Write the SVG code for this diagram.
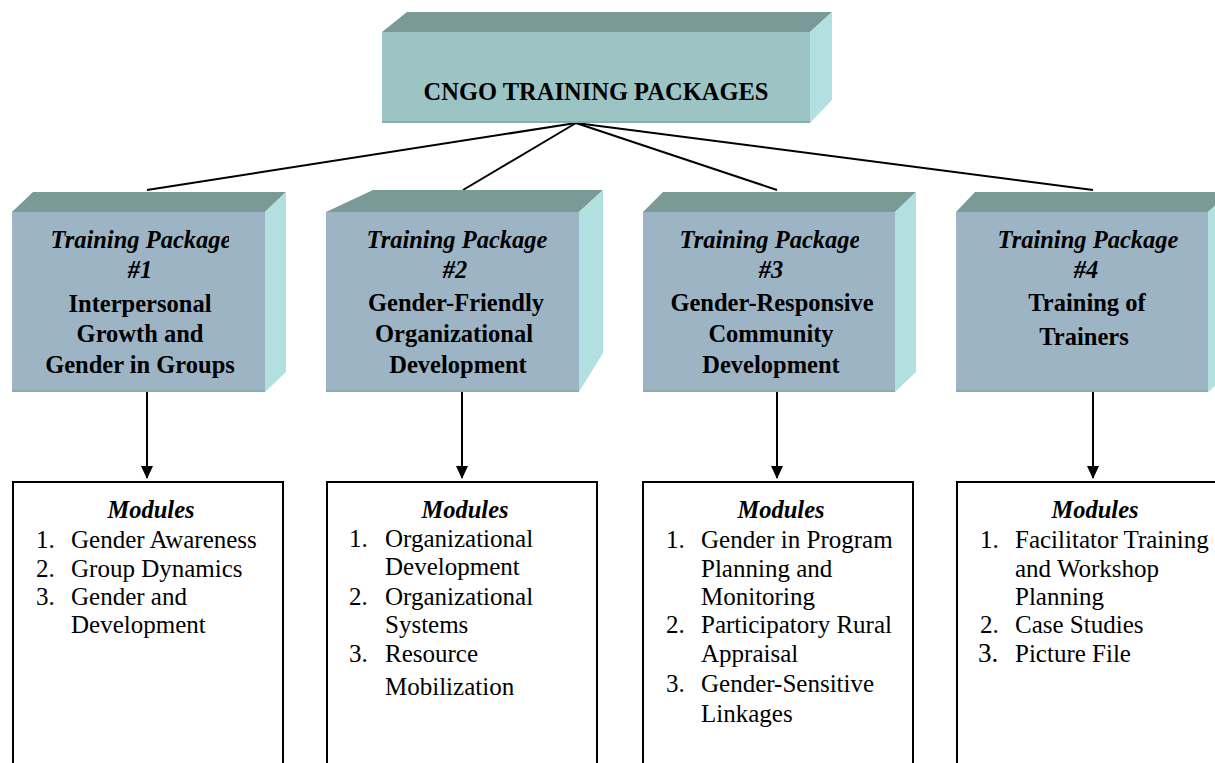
<svg xmlns="http://www.w3.org/2000/svg" width="1215" height="763" viewBox="0 0 1215 763">
  <style>
    text { font-family: "Liberation Serif", "Times New Roman", serif; fill: #000; }
    .title { font-size: 24.5px; font-weight: bold; text-anchor: middle; }
    .pkg { font-size: 24.5px; font-weight: bold; font-style: italic; text-anchor: middle; }
    .pkgname { font-size: 24.5px; font-weight: bold; text-anchor: middle; }
    .head { font-size: 24.5px; font-weight: bold; font-style: italic; text-anchor: middle; }
    .item { font-size: 25px; }
    .topface { fill: #7a9a97; }
    .sideface { fill: #b2e0e0; }
    .frontMain { fill: #9dc4c4; }
    .frontPkg { fill: #9cb4c3; }
    .edge { fill: none; stroke: #8aaeae; stroke-width: 2; }
    .link { stroke: #000; stroke-width: 2; fill: none; }
    .module { fill: #fff; stroke: #000; stroke-width: 2; }
  </style>
  <defs>
    <marker id="arrow" markerWidth="13" markerHeight="12" refX="12" refY="6" orient="auto" markerUnits="userSpaceOnUse" viewBox="0 0 13 12">
      <path d="M0,0 L13,6 L0,12 Z" fill="#000"/>
    </marker>
    <!-- text frames narrower than the caption line -->
    <clipPath id="clip1"><rect x="12" y="220" width="217" height="40"/></clipPath>
    <clipPath id="clip3"><rect x="643" y="220" width="216" height="40"/></clipPath>
  </defs>

  <rect width="1215" height="763" fill="#fff"/>

  <!-- connectors -->
  <g id="connectors">
    <line class="link" x1="576" y1="123" x2="147" y2="190"/>
    <line class="link" x1="576" y1="123" x2="463" y2="190"/>
    <line class="link" x1="576" y1="123" x2="777" y2="190"/>
    <line class="link" x1="576" y1="123" x2="1093" y2="190"/>
    <line class="link" x1="147" y1="392" x2="147" y2="478" marker-end="url(#arrow)"/>
    <line class="link" x1="462" y1="392" x2="462" y2="478" marker-end="url(#arrow)"/>
    <line class="link" x1="777" y1="392" x2="777" y2="478" marker-end="url(#arrow)"/>
    <line class="link" x1="1093" y1="392" x2="1093" y2="478" marker-end="url(#arrow)"/>
  </g>

  <!-- root block -->
  <g id="root">
    <polygon class="topface" points="382,32 407,12 832,12 810,32"/>
    <polygon class="sideface" points="810,32 832,12 832,100 810,123"/>
    <rect class="frontMain" x="382" y="32" width="428" height="91"/>
    <line class="edge" x1="382" y1="122" x2="810" y2="122"/>
    <text class="title" x="596" y="100">CNGO TRAINING PACKAGES</text>
  </g>

  <!-- package 1 -->
  <g id="package1">
    <polygon class="topface" points="12,212 33,192 286,192 265,212"/>
    <polygon class="sideface" points="265,212 286,192 286,372 265,392"/>
    <rect class="frontPkg" x="12" y="212" width="253" height="180"/>
    <line class="edge" x1="12" y1="391" x2="265" y2="391"/>
    <text class="pkg" x="141" y="248" clip-path="url(#clip1)">Training Package</text>
    <text class="pkg" x="140" y="278">#1</text>
    <text class="pkgname" x="140" y="312">Interpersonal</text>
    <text class="pkgname" x="140" y="342">Growth and</text>
    <text class="pkgname" x="140" y="373">Gender in Groups</text>
  </g>

  <!-- package 2 -->
  <g id="package2">
    <polygon class="topface" points="326,212 373,190 603,190 579,212"/>
    <polygon class="sideface" points="579,212 603,190 603,353 579,392"/>
    <rect class="frontPkg" x="326" y="212" width="253" height="180"/>
    <line class="edge" x1="326" y1="391" x2="579" y2="391"/>
    <text class="pkg" x="457" y="248">Training Package</text>
    <text class="pkg" x="455" y="278">#2</text>
    <text class="pkgname" x="456" y="311">Gender-Friendly</text>
    <text class="pkgname" x="454" y="342">Organizational</text>
    <text class="pkgname" x="458" y="373">Development</text>
  </g>

  <!-- package 3 -->
  <g id="package3">
    <polygon class="topface" points="643,212 663,192 916,192 895,212"/>
    <polygon class="sideface" points="895,212 916,192 916,372 895,392"/>
    <rect class="frontPkg" x="643" y="212" width="252" height="180"/>
    <line class="edge" x1="643" y1="391" x2="895" y2="391"/>
    <text class="pkg" x="770" y="248" clip-path="url(#clip3)">Training Package</text>
    <text class="pkg" x="771" y="278">#3</text>
    <text class="pkgname" x="772" y="311">Gender-Responsive</text>
    <text class="pkgname" x="771" y="342">Community</text>
    <text class="pkgname" x="771" y="373">Development</text>
  </g>

  <!-- package 4 -->
  <g id="package4">
    <polygon class="topface" points="956,212 975,192 1230,192 1208,212"/>
    <polygon class="sideface" points="1208,212 1230,192 1230,372 1208,392"/>
    <rect class="frontPkg" x="956" y="212" width="252" height="180"/>
    <line class="edge" x1="956" y1="391" x2="1208" y2="391"/>
    <text class="pkg" x="1088" y="248">Training Package</text>
    <text class="pkg" x="1086" y="278">#4</text>
    <text class="pkgname" x="1087" y="311">Training of</text>
    <text class="pkgname" x="1084" y="345">Trainers</text>
  </g>

  <!-- module lists -->
  <g id="modules1">
    <rect class="module" x="13" y="482" width="270" height="300"/>
    <text class="head" x="151" y="518">Modules</text>
    <text class="item" x="36" y="548">1.</text>
    <text class="item" x="71" y="548">Gender Awareness</text>
    <text class="item" x="36" y="577">2.</text>
    <text class="item" x="71" y="577">Group Dynamics</text>
    <text class="item" x="36" y="605">3.</text>
    <text class="item" x="71" y="605">Gender and</text>
    <text class="item" x="71" y="633">Development</text>
  </g>

  <g id="modules2">
    <rect class="module" x="327" y="482" width="270" height="300"/>
    <text class="head" x="465" y="518">Modules</text>
    <text class="item" x="349" y="547">1.</text>
    <text class="item" x="385" y="547">Organizational</text>
    <text class="item" x="385" y="575">Development</text>
    <text class="item" x="349" y="605">2.</text>
    <text class="item" x="385" y="605">Organizational</text>
    <text class="item" x="385" y="633">Systems</text>
    <text class="item" x="349" y="662">3.</text>
    <text class="item" x="385" y="662">Resource</text>
    <text class="item" x="385" y="695">Mobilization</text>
  </g>

  <g id="modules3">
    <rect class="module" x="643" y="482" width="270" height="300"/>
    <text class="head" x="781" y="518">Modules</text>
    <text class="item" x="666" y="548">1.</text>
    <text class="item" x="701" y="548">Gender in Program</text>
    <text class="item" x="701" y="577">Planning and</text>
    <text class="item" x="701" y="605">Monitoring</text>
    <text class="item" x="666" y="633">2.</text>
    <text class="item" x="701" y="633">Participatory Rural</text>
    <text class="item" x="701" y="662">Appraisal</text>
    <text class="item" x="666" y="692">3.</text>
    <text class="item" x="701" y="692">Gender-Sensitive</text>
    <text class="item" x="701" y="722">Linkages</text>
  </g>

  <g id="modules4">
    <rect class="module" x="957" y="482" width="280" height="300"/>
    <text class="head" x="1095" y="518">Modules</text>
    <text class="item" x="980" y="548">1.</text>
    <text class="item" x="1015" y="548">Facilitator Training</text>
    <text class="item" x="1015" y="577">and Workshop</text>
    <text class="item" x="1015" y="605">Planning</text>
    <text class="item" x="980" y="633">2.</text>
    <text class="item" x="1015" y="633">Case Studies</text>
    <text class="item" x="978" y="662" style="font-size:27px">3.</text>
    <text class="item" x="1015" y="662">Picture File</text>
  </g>
</svg>
